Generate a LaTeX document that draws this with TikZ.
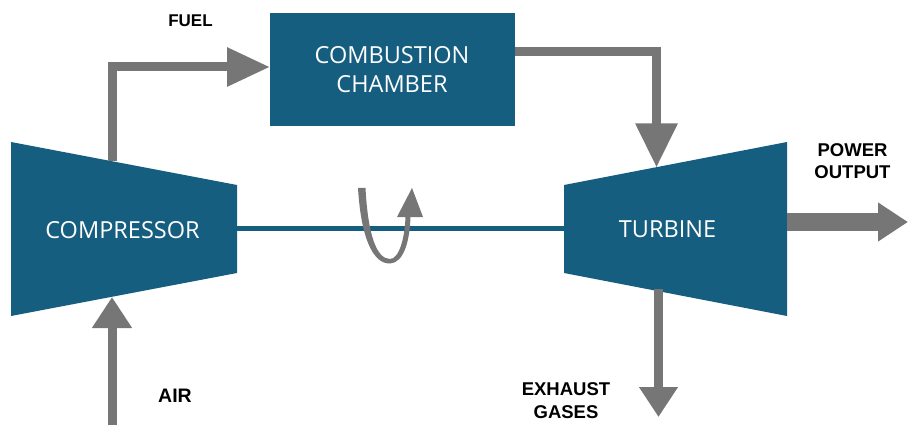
\documentclass[tikz,border=0pt]{standalone}
\usepackage{fontspec}
\setmainfont{Open Sans}
\newfontfamily\labelfont{Liberation Sans}
\usetikzlibrary{arrows.meta}
\definecolor{unitblue}{RGB}{22,94,128}
\definecolor{flowgrey}{RGB}{118,118,118}
\begin{document}
\begin{tikzpicture}[x=1pt,y=-1pt,
  unit/.style={fill=unitblue},
  unittext/.style={text=white,font=\fontsize{23.5}{29}\selectfont,align=center,inner sep=0pt},
  flow/.style={draw=flowgrey,line width=9pt,line join=miter},
  lbl/.style={font=\labelfont\bfseries\fontsize{18.5}{22.5}\selectfont,align=center,inner sep=0pt}]
\useasboundingbox (0,0) rectangle (908,425);
% units
\fill[unit] (11,142) -- (237,185) -- (237,273) -- (11,316) -- cycle;
\fill[unit] (564,185) -- (787,142) -- (787,316) -- (564,273) -- cycle;
\fill[unit] (270,13) rectangle (515,126);
\node[unittext] (comp) at (122.5,230) {COMPRESSOR};
\node[unittext] (turb) at (667.5,229) {TURBINE};
\node[unittext] (chamber) at (392,69.5) {COMBUSTION\\CHAMBER};
% anchor points on shapes
\coordinate (compR) at (237,228);
\coordinate (turbL) at (564,228);
\coordinate (compTop) at (112,161.5);
\coordinate (compBot) at (112,297);
\coordinate (chamL) at (270,67);
\coordinate (chamR) at (515,52);
\coordinate (turbTop) at (656.5,167.5);
\coordinate (turbBot) at (658.5,289);
\coordinate (turbR) at (787,222);
\coordinate (powerEnd) at (908,222);
\coordinate (exhEnd) at (658.5,417);
\coordinate (airStart) at (112,425);
% shaft
\draw[unitblue,line width=5pt] (compR) -- (turbL);
% flows
\draw[flow,-{Triangle[length=43pt,width=37pt]}] (compTop) |- (chamL);
\draw[flow,-{Triangle[length=44pt,width=40pt]}] (chamR) -| (turbTop);
\draw[flow,line width=18pt,-{Triangle[length=30pt,width=37pt]}] (turbR) -- (powerEnd);
\draw[flow,-{Triangle[length=30pt,width=37pt]}] (turbBot) -- (exhEnd);
\draw[flow,-{Triangle[length=31pt,width=38pt]}] (airStart) -- (compBot);
% rotation arrow
\fill[flowgrey] (358,188) .. controls (361,238) and (373,264) .. (390,263.5)
  .. controls (404,263) and (410,240) .. (410.5,216)
  -- (405.5,216) .. controls (405,238) and (399,259) .. (390,259)
  .. controls (377,259) and (368,236) .. (365.5,188) -- cycle;
\fill[flowgrey] (397,217) -- (412,188) -- (423,217) -- cycle;
% labels
\node[lbl,font=\labelfont\bfseries\fontsize{17}{22}\selectfont] (fuel) at (190.5,20.5) {FUEL};
\node[lbl] (power) at (852.5,161) {POWER\\OUTPUT};
\node[lbl] (exhaust) at (566,400.5) {EXHAUST\\GASES};
\node[lbl,font=\labelfont\bfseries\fontsize{19.5}{22}\selectfont] (air) at (175,396) {AIR};
\end{tikzpicture}
\end{document}
